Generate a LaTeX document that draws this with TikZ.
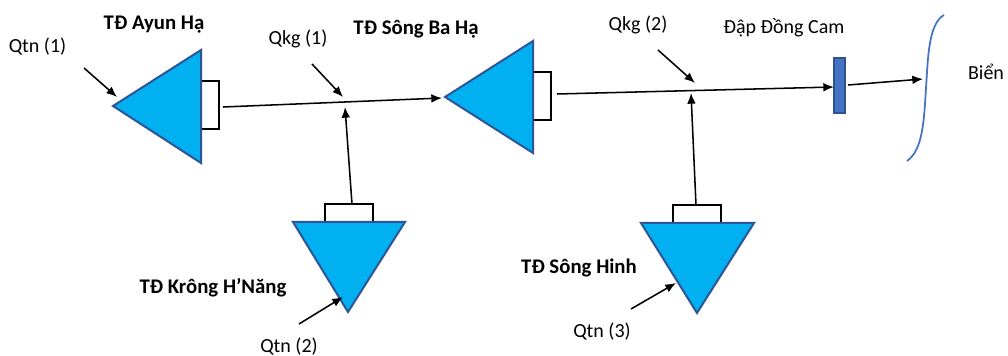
\documentclass[tikz,border=0pt]{standalone}
\usepackage{fontspec}
\setmainfont{Carlito}
\usetikzlibrary{arrows.meta}
\definecolor{trifill}{HTML}{00B0F0}
\definecolor{triedge}{HTML}{2F5597}
\definecolor{damfill}{HTML}{4472C4}
\definecolor{damedge}{HTML}{2F528F}
\begin{document}
\begin{tikzpicture}[x=0.75pt,y=-0.75pt,
  plant/.style={fill=trifill, draw=triedge, line width=1.5pt, line join=miter},
  gate/.style={draw=black, fill=white, line width=1.7pt},
  flow/.style={-{Latex[length=8pt,width=6.5pt]}, line width=1.15pt},
  lbl/.style={inner sep=0pt, font=\fontsize{15}{18}\selectfont},
  blbl/.style={inner sep=0pt, font=\bfseries\fontsize{15.6}{18}\selectfont}]
\useasboundingbox (0,0) rectangle (1008,356);
\fill[white] (0,0) rectangle (1008,356);

% power plants (triangles) and gates
\draw[gate] (201,81) rectangle (219,129);
\draw[plant] (113,106) -- (201,50) -- (201,163) -- cycle;
\draw[gate] (533,72) rectangle (551,120);
\draw[plant] (445,97) -- (533,41) -- (533,153) -- cycle;
\draw[gate] (325,204) rectangle (373,222);
\draw[plant] (293,222) -- (405,222) -- (348,312) -- cycle;
\draw[gate] (673,205) rectangle (721,223);
\draw[plant] (641,223) -- (754,223) -- (697,313) -- cycle;

% dam and sea
\draw[fill=damfill, draw=damedge, line width=1pt] (834,58) rectangle (845,113);
\draw[damfill, line width=1.3pt] (944,15) .. controls (928,24) and (928,60) .. (926,88)
   .. controls (924,120) and (923,150) .. (907,161);

% coordinates
\coordinate (qtn1s) at (84,68);   \coordinate (qtn1e) at (117,97);
\coordinate (ayunout) at (223,107); \coordinate (sbhin) at (442,98);
\coordinate (qkg1s) at (312,64);  \coordinate (qkg1e) at (343,97);
\coordinate (khnout) at (352,204); \coordinate (j1) at (345,107);
\coordinate (sbhout) at (557,94); \coordinate (damin) at (834,87);
\coordinate (qkg2s) at (658,50);  \coordinate (qkg2e) at (695,83);
\coordinate (shout) at (696,205); \coordinate (j2) at (691,93);
\coordinate (damout) at (848,85); \coordinate (sea) at (923,79);
\coordinate (qtn2s) at (299,324); \coordinate (qtn2e) at (343,297);
\coordinate (qtn3s) at (631,309); \coordinate (qtn3e) at (676,283);

% connectors
\draw[flow] (qtn1s) -- (qtn1e);
\draw[flow] (ayunout) -- (sbhin);
\draw[flow] (qkg1s) -- (qkg1e);
\draw[flow] (khnout) -- (j1);
\draw[flow] (sbhout) -- (damin);
\draw[flow] (qkg2s) -- (qkg2e);
\draw[flow] (shout) -- (j2);
\draw[flow] (damout) -- (sea);
\draw[flow] (qtn2s) -- (qtn2e);
\draw[flow] (qtn3s) -- (qtn3e);

% labels
\node[lbl] (tqtn1) at (37.5,47) {Qtn (1)};
\node[blbl] (tayun) at (154,25) {TĐ Ayun Hạ};
\node[lbl] (tqkg1) at (298,39) {Qkg (1)};
\node[blbl] (tsbh) at (416,29) {TĐ Sông Ba Hạ};
\node[lbl] (tqkg2) at (638,25) {Qkg (2)};
\node[lbl] (tdam) at (784,28) {Đập Đồng Cam};
\node[lbl] (tbien) at (986,72) {Biển};
\node[blbl] (tkhn) at (213,288) {TĐ Krông H’Năng};
\node[lbl] (tqtn2) at (289,347) {Qtn (2)};
\node[blbl] (tsh) at (579,268) {TĐ Sông Hinh};
\node[lbl] (tqtn3) at (602,332) {Qtn (3)};
\end{tikzpicture}
\end{document}
